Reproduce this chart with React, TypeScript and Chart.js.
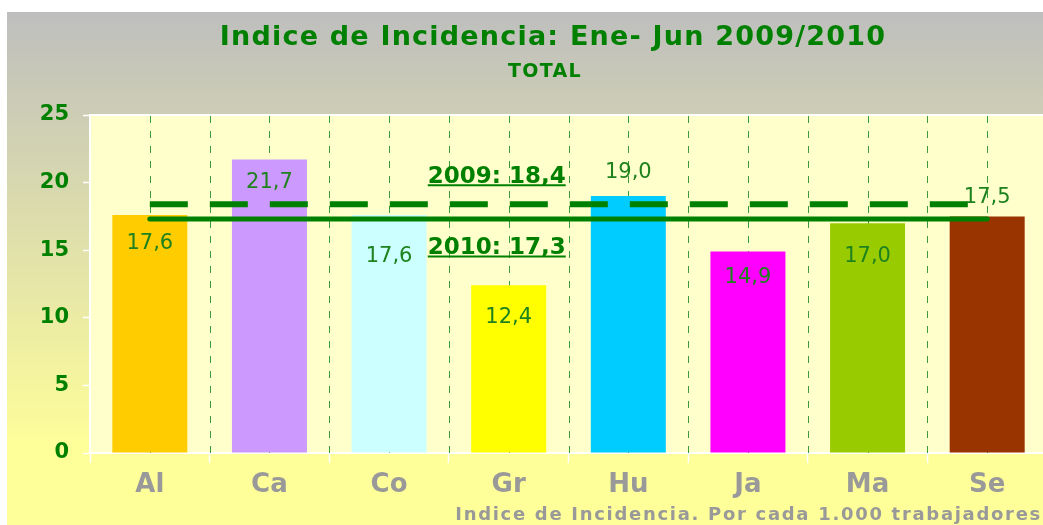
import React, { useEffect, useRef } from 'react';
import { Chart, registerables } from 'chart.js';

Chart.register(...registerables);

// ---- data ----
const categories = ['Al', 'Ca', 'Co', 'Gr', 'Hu', 'Ja', 'Ma', 'Se'];
const values2010 = [17.6, 21.7, 17.6, 12.4, 19.0, 14.9, 17.0, 17.5];
const barColors = ['#FFCC00', '#CC99FF', '#CCFFFF', '#FFFF00', '#00CCFF', '#FF00FF', '#99CC00', '#993300'];
const avg2009 = 18.4;
const avg2010 = 17.3;
const yTicks = [0, 5, 10, 15, 20, 25];
const titleText = 'Indice de Incidencia: Ene- Jun 2009/2010';
const subtitleText = 'TOTAL';
const footerText = 'Indice de Incidencia. Por cada 1.000 trabajadores';
const label2009 = '2009: 18,4';
const label2010 = '2010: 17,3';

// ---- style ----
const GREEN = '#008000';
const LABEL_GREEN = '#1E821E';
const GRAY = '#999999';
const FONT = '"DejaVu Sans", Verdana, sans-serif';
const labelOffsets = [28, 23, 41, 32, -24, 26, 33, -19];

const fmt = (v: number) => v.toFixed(1).replace('.', ',');

const backgroundPlugin = {
  id: 'bgPlugin',
  beforeDraw(chart: any) {
    const { ctx, chartArea, width, height } = chart;
    ctx.save();
    const g = ctx.createLinearGradient(0, 0, 0, 440);
    g.addColorStop(0, '#BEBEBE');
    g.addColorStop(1, '#FFFF99');
    ctx.fillStyle = g;
    ctx.fillRect(0, 0, width, height);
    ctx.fillStyle = '#FFFFCC';
    ctx.fillRect(chartArea.left, chartArea.top, chartArea.right - chartArea.left, chartArea.bottom - chartArea.top);
    ctx.strokeStyle = '#FFFFFF';
    ctx.lineWidth = 2;
    ctx.beginPath();
    ctx.moveTo(chartArea.left, chartArea.top);
    ctx.lineTo(chartArea.right, chartArea.top);
    ctx.stroke();

    // titles
    ctx.fillStyle = GREEN;
    ctx.textAlign = 'center';
    ctx.textBaseline = 'middle';
    ctx.font = `bold 27px ${FONT}`;
    (ctx as any).letterSpacing = '1.2px';
    ctx.fillText(titleText, 546, 26);
    ctx.font = `bold 19px ${FONT}`;
    (ctx as any).letterSpacing = '1.3px';
    ctx.fillText(subtitleText, 538, 60);

    // footer
    ctx.fillStyle = GRAY;
    ctx.textAlign = 'right';
    ctx.font = `bold 18px ${FONT}`;
    (ctx as any).letterSpacing = '1.7px';
    ctx.fillText(footerText, width - 5, 503);
    (ctx as any).letterSpacing = '0px';
    ctx.restore();
  },
  beforeDatasetsDraw(chart: any) {
    const { ctx, chartArea } = chart;
    const xs = chart.scales.x;
    const half = (xs.getPixelForValue(1) - xs.getPixelForValue(0)) / 2;
    ctx.save();
    ctx.strokeStyle = '#3C9A3C';
    ctx.lineWidth = 1;
    ctx.setLineDash([7, 8]);
    categories.forEach((_, i) => {
      const c = xs.getPixelForValue(i);
      [c, c + half].forEach((x) => {
        if (x >= chartArea.right - 1) return;
        const px = Math.round(x) + 0.5;
        ctx.beginPath();
        ctx.moveTo(px, chartArea.top + 1);
        ctx.lineTo(px, chartArea.bottom);
        ctx.stroke();
      });
    });
    ctx.restore();
  },
  afterDatasetsDraw(chart: any) {
    const { ctx } = chart;
    const meta = chart.getDatasetMeta(0);
    ctx.save();
    ctx.fillStyle = LABEL_GREEN;
    ctx.textAlign = 'center';
    ctx.textBaseline = 'middle';
    ctx.font = `21px ${FONT}`;
    meta.data.forEach((el: any, i: number) => {
      ctx.fillText(fmt(values2010[i]), el.x, el.y + labelOffsets[i]);
    });

    // average labels
    const xs = chart.scales.x;
    const ys = chart.scales.y;
    const cx = xs.getPixelForValue(2.9);
    ctx.fillStyle = GREEN;
    ctx.strokeStyle = GREEN;
    ctx.font = `bold 23px ${FONT}`;
    ctx.textBaseline = 'alphabetic';
    const drawLabel = (txt: string, baseY: number) => {
      const w = ctx.measureText(txt).width;
      ctx.fillText(txt, cx, baseY);
      ctx.lineWidth = 2;
      ctx.beginPath();
      ctx.moveTo(cx - w / 2, baseY + 2.5);
      ctx.lineTo(cx + w / 2, baseY + 2.5);
      ctx.stroke();
    };
    drawLabel(label2009, ys.getPixelForValue(avg2009) - 21.5);
    drawLabel(label2010, ys.getPixelForValue(avg2010) + 35);
    ctx.restore();
  },
};

export default function App() {
  const ref = useRef<HTMLCanvasElement>(null);

  useEffect(() => {
    const chart = new Chart(ref.current as HTMLCanvasElement, {
      type: 'bar',
      data: {
        labels: categories,
        datasets: [
          {
            type: 'bar',
            data: values2010,
            backgroundColor: barColors,
            borderWidth: 0,
            barPercentage: 0.627,
            categoryPercentage: 1,
            order: 3,
          } as any,
          {
            type: 'line',
            data: categories.map(() => avg2009),
            borderColor: GREEN,
            borderWidth: 6,
            borderDash: [38, 22],
            borderCapStyle: 'butt',
            pointRadius: 0,
            fill: false,
            order: 1,
          } as any,
          {
            type: 'line',
            data: categories.map(() => avg2010),
            borderColor: GREEN,
            borderWidth: 5,
            borderCapStyle: 'round',
            pointRadius: 0,
            fill: false,
            order: 2,
          } as any,
        ],
      },
      options: {
        responsive: false,
        animation: false,
        layout: { padding: { top: 103, left: 0, right: 0, bottom: 0 } },
        plugins: {
          legend: { display: false },
          tooltip: { enabled: false },
          title: { display: false },
        },
        scales: {
          x: {
            type: 'category',
            offset: true,
            grid: {
              display: true,
              offset: true,
              drawOnChartArea: false,
              drawTicks: true,
              tickLength: 10,
              tickColor: '#FFFFFF',
              tickWidth: 1.5,
            },
            border: { display: true, color: '#FFFFFF', width: 2 },
            ticks: {
              color: GRAY,
              font: { family: FONT, size: 26, weight: 'bold' },
              padding: 7,
              maxRotation: 0,
              autoSkip: false,
            },
            afterFit: (s: any) => {
              s.height = 72;
            },
          },
          y: {
            min: 0,
            max: 25,
            afterBuildTicks: (s: any) => {
              s.ticks = yTicks.map((v) => ({ value: v }));
            },
            ticks: {
              color: GREEN,
              font: { family: FONT, size: 21, weight: 'bold' },
              padding: 14,
            },
            grid: {
              drawOnChartArea: false,
              drawTicks: true,
              tickLength: 7,
              tickColor: '#FFFFFF',
              tickWidth: 1.5,
            },
            border: { display: true, color: '#FFFFFF', width: 2 },
            afterFit: (s: any) => {
              s.width = 83;
            },
          },
        },
      } as any,
      plugins: [backgroundPlugin],
    });
    return () => chart.destroy();
  }, []);

  return (
    <div
      style={{
        position: 'fixed',
        left: 0,
        top: 0,
        width: 1043,
        height: 525,
        overflow: 'hidden',
        background: '#FFFFFF',
      }}
    >
      <div style={{ position: 'absolute', left: 7, top: 12, width: 1040, height: 513 }}>
        <canvas ref={ref} width={1040} height={513} style={{ width: 1040, height: 513, display: 'block' }} />
      </div>
    </div>
  );
}
